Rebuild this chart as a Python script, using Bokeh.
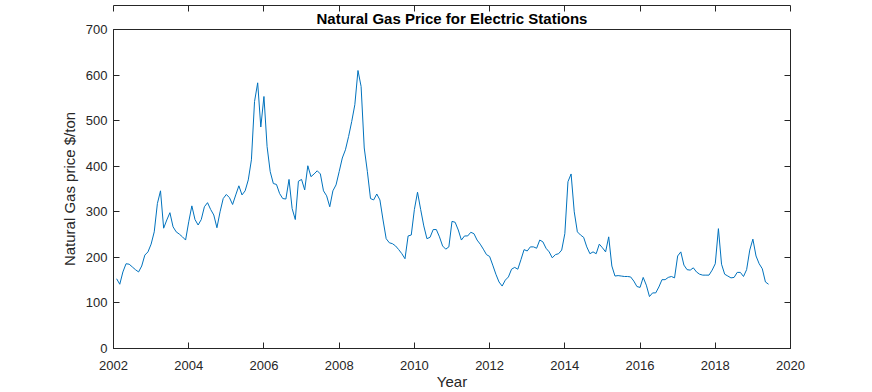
from bokeh.plotting import figure
from bokeh.models import Range1d, FixedTicker, LinearAxis, Title
from bokeh.embed import file_html
from bokeh.resources import INLINE

start_year = 2002
prices = [
    153, 141, 168, 186, 185, 179, 173, 168, 181, 205, 212, 229,
    256, 318, 346, 264, 282, 298, 267, 256, 251, 245, 238, 278,
    313, 283, 271, 283, 311, 320, 305, 293, 265, 300, 329, 338,
    331, 316, 337, 357, 337, 346, 370, 414, 542, 583, 486, 553,
    443, 388, 362, 360, 340, 329, 328, 371, 307, 283, 367, 371,
    348, 401, 377, 383, 390, 383, 346, 335, 311, 346, 359, 388,
    418, 436, 465, 498, 535, 610, 575, 440, 388, 329, 326, 339,
    326, 282, 241, 232, 230, 225, 217, 208, 197, 247, 249, 305,
    343, 305, 269, 241, 244, 261, 261, 245, 225, 218, 223, 279,
    277, 260, 238, 247, 247, 255, 252, 238, 229, 218, 206, 202,
    183, 163, 146, 137, 150, 157, 174, 178, 174, 195, 217, 214,
    223, 223, 220, 238, 234, 220, 212, 199, 206, 208, 216, 252,
    366, 383, 300, 256, 249, 244, 223, 208, 212, 208, 229, 221,
    212, 245, 181, 159, 160, 159, 158, 158, 157, 148, 136, 134,
    156, 139, 114, 122, 122, 135, 151, 151, 156, 158, 155, 203,
    212, 183, 173, 172, 177, 168, 163, 161, 161, 161, 172, 186,
    263, 185, 163, 159, 155, 156, 167, 167, 158, 173, 216, 240,
    203, 186, 175, 146, 141,
]
months = list(range(1, len(prices) + 1))
years = [start_year + m / 12 for m in months]

x_ticks = [2002, 2004, 2006, 2008, 2010, 2012, 2014, 2016, 2018, 2020]
y_ticks = [0, 100, 200, 300, 400, 500, 600, 700]

TXT = "#262626"
FONT = "Liberation Sans"

p = figure(width=856, height=392, output_backend="svg", toolbar_location=None,
           x_range=Range1d(2002, 2020), y_range=Range1d(0, 700),
           min_border_left=113, min_border_right=66, min_border_top=29, min_border_bottom=44)

p.line(years, prices, line_color="#0072BD", line_width=1)

p.add_layout(Title(text="Natural Gas Price for Electric Stations", align="center",
                   text_font=FONT, text_font_size="15px", text_font_style="bold",
                   text_color="black", standoff=5), "above")

p.xgrid.visible = False
p.ygrid.visible = False
p.outline_line_color = TXT
p.outline_line_width = 1

def style(ax, ticks, show_labels=True):
    ax.ticker = FixedTicker(ticks=ticks)
    ax.major_tick_in = 6
    ax.major_tick_out = 0
    ax.minor_tick_line_color = None
    ax.axis_line_color = TXT
    ax.major_tick_line_color = TXT
    ax.major_label_text_font = FONT
    if show_labels:
        ax.major_label_text_color = TXT
        ax.major_label_text_font_size = "13px"
    else:
        ax.major_label_text_color = None
        ax.major_label_text_font_size = "1px"
    ax.axis_label_text_color = TXT
    ax.axis_label_text_font = FONT
    ax.axis_label_text_font_style = "normal"
    ax.axis_label_text_font_size = "15px"

xa = p.xaxis[0]
style(xa, x_ticks)
xa.axis_label = "Year"
xa.major_label_standoff = 12
xa.axis_label_standoff = 0

ya = p.yaxis[0]
style(ya, y_ticks)
ya.axis_label = "Natural Gas price $/ton"
ya.major_label_standoff = 6
ya.axis_label_standoff = 5

top = LinearAxis()
style(top, x_ticks, show_labels=False)
top.major_label_standoff = 0
p.add_layout(top, "above")

right = LinearAxis()
style(right, y_ticks, show_labels=False)
right.major_label_standoff = 0
p.add_layout(right, "right")

open("out.html", "w").write(file_html(p, INLINE))
